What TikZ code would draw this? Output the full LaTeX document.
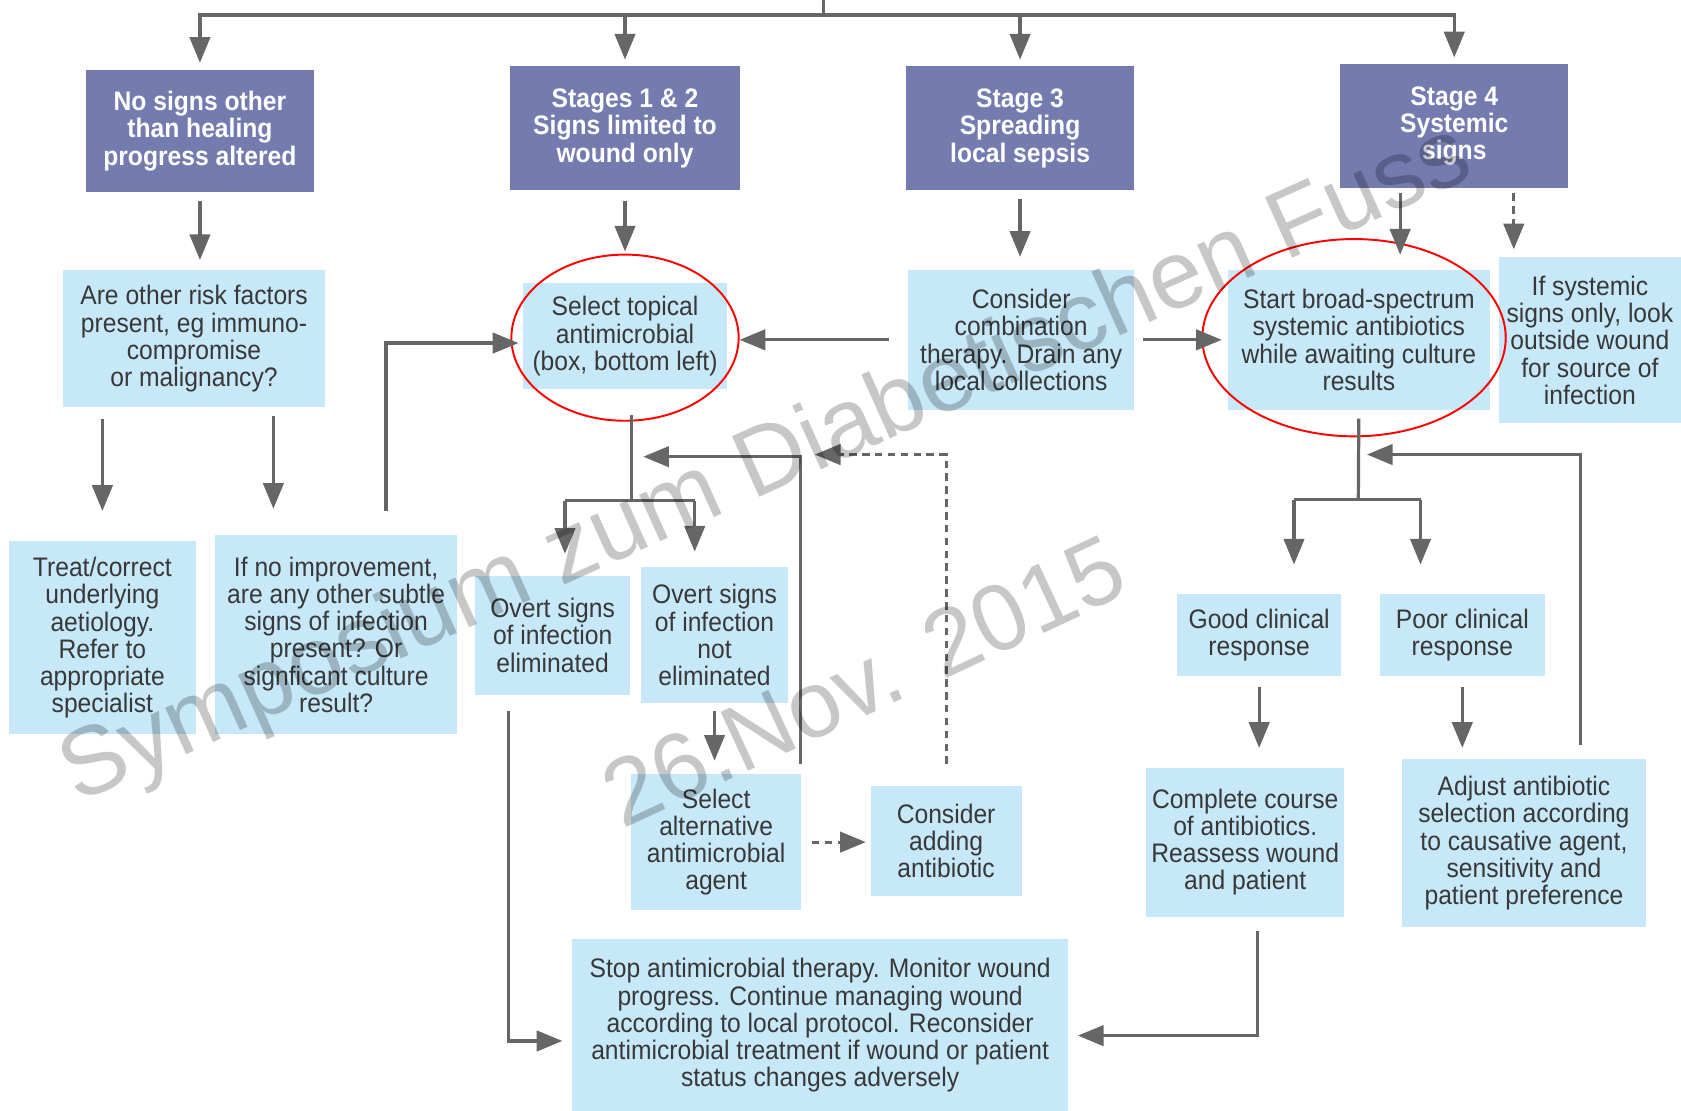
\documentclass[tikz,border=0pt]{standalone}
\usepackage{fontspec}
\setmainfont{Liberation Sans}[FakeStretch=0.92]
\newfontfamily\wmfont{Liberation Sans}
\usetikzlibrary{arrows.meta,shapes.geometric,calc}
\definecolor{pur}{HTML}{737BAF}
\definecolor{lblue}{HTML}{C6E8F8}
\definecolor{lin}{HTML}{666666}
\definecolor{txt}{HTML}{383838}
\tikzset{
 pbox/.style={fill=pur, text=white, font=\fontsize{12.5}{12.8}\selectfont\bfseries, align=center, inner sep=0pt},
 lbox/.style={fill=lblue, text=txt, font=\fontsize{12.5}{12.7}\selectfont, align=center, inner sep=0pt},
 conn/.style={draw=lin, line width=1.5pt},
 arr/.style={conn, -{Triangle[length=12pt,width=9.5pt]}},
 dsh/.style={dash pattern=on 3.5pt off 2.5pt},
 ring/.style={draw=red, line width=0.9pt, ellipse, inner sep=0pt},
 wm/.style={text=black, text opacity=0.22, inner sep=0pt},
}
\begin{document}
\begin{tikzpicture}[x=0.5pt,y=-0.5pt]
\useasboundingbox (0,0) rectangle (1568,1036);
% row 1
\node[pbox, minimum width=106.5pt, minimum height=57pt] (b1) at (186.5,122) {No signs other\\than healing\\progress altered};
\node[pbox, minimum width=107pt, minimum height=57.5pt] (b2) at (583,119.5) {Stages 1 \& 2\\Signs limited to\\wound only};
\node[pbox, minimum width=106.5pt, minimum height=57.5pt] (b3) at (951.5,119.5) {Stage 3\\Spreading\\local sepsis};
\node[pbox, minimum width=106.5pt, minimum height=57.5pt] (b4) at (1356.5,117.5) {Stage 4\\Systemic\\signs};
% row 2
\node[lbox, minimum width=122pt, minimum height=64pt] (r1) at (181,316) {Are other risk factors\\present, eg immuno-\\compromise\\or malignancy?};
\node[lbox, minimum width=95pt, minimum height=49.5pt] (r2) at (583,313.5) {Select topical\\antimicrobial\\(box, bottom left)};
\node[lbox, minimum width=105.5pt, minimum height=65pt] (r3) at (952.5,317) {Consider\\combination\\therapy. Drain any\\local collections};
\node[lbox, minimum width=122.5pt, minimum height=65pt] (r4) at (1267.5,317) {Start broad-spectrum\\systemic antibiotics\\while awaiting culture\\results};
\node[lbox, minimum width=85pt, minimum height=77.5pt] (r5) at (1483,317.5) {If systemic\\signs only, look\\outside wound\\for source of\\infection};
% row 3
\node[lbox, minimum width=87.5pt, minimum height=90pt] (t1) at (95.5,595) {Treat/correct\\underlying\\aetiology.\\Refer to\\appropriate\\specialist};
\node[lbox, minimum width=112.5pt, minimum height=93pt] (t2) at (313.5,592) {If no improvement,\\are any other subtle\\signs of infection\\present? Or\\signficant culture\\result?};
\node[lbox, minimum width=72.5pt, minimum height=55.5pt] (o1) at (515.5,592.5) {Overt signs\\of infection\\eliminated};
\node[lbox, minimum width=68.5pt, minimum height=63.5pt] (o2) at (666.5,592.5) {Overt signs\\of infection\\not\\eliminated};
\node[lbox, minimum width=79pt, minimum height=63.5pt] (s1) at (668,785.5) {Select\\alternative\\antimicrobial\\agent};
\node[lbox, minimum width=70.5pt, minimum height=51.5pt] (c1) at (882.5,784.5) {Consider\\adding\\antibiotic};
\node[lbox, minimum width=76.5pt, minimum height=38.5pt] (g1) at (1174.5,592.5) {Good clinical\\response};
\node[lbox, minimum width=77pt, minimum height=38.5pt] (g2) at (1364,592.5) {Poor clinical\\response};
\node[lbox, minimum width=92.5pt, minimum height=69.5pt] (k1) at (1161.5,785.5) {Complete course\\of antibiotics.\\Reassess wound\\and patient};
\node[lbox, minimum width=113.5pt, minimum height=78.5pt] (k2) at (1421.5,786.5) {Adjust antibiotic\\selection according\\to causative agent,\\sensitivity and\\patient preference};
\node[lbox, minimum width=231pt, minimum height=81pt] (st) at (765,956.5) {Stop antimicrobial therapy. Monitor wound\\progress. Continue managing wound\\according to local protocol. Reconsider\\antimicrobial treatment if wound or patient\\status changes adversely};
% red rings
\node[ring, minimum width=106pt, minimum height=77.5pt] (e1) at (583,315) {};
\node[ring, minimum width=141.5pt, minimum height=92pt] (e2) at (1263,315) {};
% top distribution
\coordinate (src) at (768,0);
\coordinate (hub) at (768,14);
\draw[conn] (src) -- (hub);
\foreach \b in {b1,b2,b3,b4} \draw[arr, shorten >=3pt] (hub) -| (\b.north);
% row1 -> row2
\draw[arr, shorten <=4pt, shorten >=4.5pt] (b1.south) -- (b1.south |- r1.north);
\draw[arr, shorten <=5pt, shorten >=1pt] (b2.south) -- (b2.south |- e1.north);
\draw[arr, shorten <=4pt, shorten >=6pt] (b3.south) -- (b3.south |- r3.north);
\draw[arr, shorten <=2.5pt, shorten >=7pt] ([xshift=-25.25pt]b4.south) -- ([xshift=-25.25pt]b4.south |- r4.north);
\draw[arr, dsh, shorten <=2.5pt, shorten >=3.5pt] ([xshift=27.75pt]b4.south) -- ([xshift=27.75pt]b4.south |- r5.north);
% left column
\draw[arr, shorten <=5pt, shorten >=14pt] (r1.south -| t1.north) -- (t1.north);
\draw[arr, shorten <=4pt, shorten >=12pt] ([xshift=37pt]r1.south) -- ([xshift=37pt]r1.south |- t2.north);
\draw[arr, shorten <=11pt, shorten >=2pt] ([xshift=23.25pt]t2.north) |- ([yshift=-3.25pt]r2.west);
% row 2 horizontals
\draw[arr, shorten <=8.5pt] (r3.west) -- (r3.west -| e1.east);
\draw[arr, shorten <=4pt, shorten >=2.5pt] (r3.east) -- (r3.east -| r4.west);
% middle branch
\coordinate (j1) at (589,467);
\coordinate (j1l) at (527,467);
\coordinate (j1r) at (648,467);
\coordinate (m1) at (589,426);
\coordinate (m2) at (746,424);
\draw[conn, shorten <=12pt] ([xshift=3pt]r2.south) -- (j1);
\draw[conn] (j1l) -- (j1r);
\draw[arr, shorten >=10pt] (j1l) -- (j1l |- o1.north);
\draw[arr, shorten >=7pt] (j1r) -- (j1r |- o2.north);
\draw[arr, shorten <=3.5pt, shorten >=6pt] (o2.south) -- (o2.south |- s1.north);
\draw[arr, shorten <=4.5pt, shorten >=5.5pt] ([xshift=-0.5pt]s1.north east) |- (m1);
\draw[arr, dsh, shorten <=10pt, shorten >=7pt] (c1.north) |- (m2);
\draw[arr, dsh, shorten <=5pt, shorten >=2pt] (s1.east) -- (s1.east -| c1.west);
\draw[arr, shorten <=7.5pt, shorten >=4.5pt] ([xshift=-20.75pt]o1.south) |- ([yshift=-7.25pt]st.west);
% right branch
\coordinate (j2) at (1267,466);
\coordinate (j2l) at (1207,466);
\coordinate (j2r) at (1325,466);
\coordinate (m3) at (1267,424);
\draw[conn, shorten <=4pt] (r4.south) -- (j2);
\draw[conn] (j2l) -- (j2r);
\draw[arr, shorten >=13.5pt] (j2l) -- (j2l |- g1.north);
\draw[arr, shorten >=13.5pt] (j2r) -- (j2r |- g2.north);
\draw[arr, shorten <=6.5pt, shorten >=4pt] ([xshift=26.25pt]k2.north) |- (m3);
\draw[arr, shorten <=4.5pt, shorten >=9pt] (g1.south) -- (g1.south |- k1.north);
\draw[arr, shorten <=4.5pt, shorten >=5pt] (g2.south) -- (g2.south |- k2.north);
\draw[arr, shorten <=6.5pt, shorten >=4.5pt] ([xshift=5.75pt]k1.south) |- ([yshift=-4.75pt]st.east);
% watermark
\node[wm, font=\wmfont\fontsize{45}{45}\selectfont, rotate=24.2, anchor=base west] (wm1) at (72,750) {Symposium zum Diabetischen Fuss};
\node[wm, font=\wmfont\fontsize{44}{44}\selectfont, rotate=25, anchor=base west] (wm2) at (580,774) {26.Nov. 2015};
\end{tikzpicture}
\end{document}
